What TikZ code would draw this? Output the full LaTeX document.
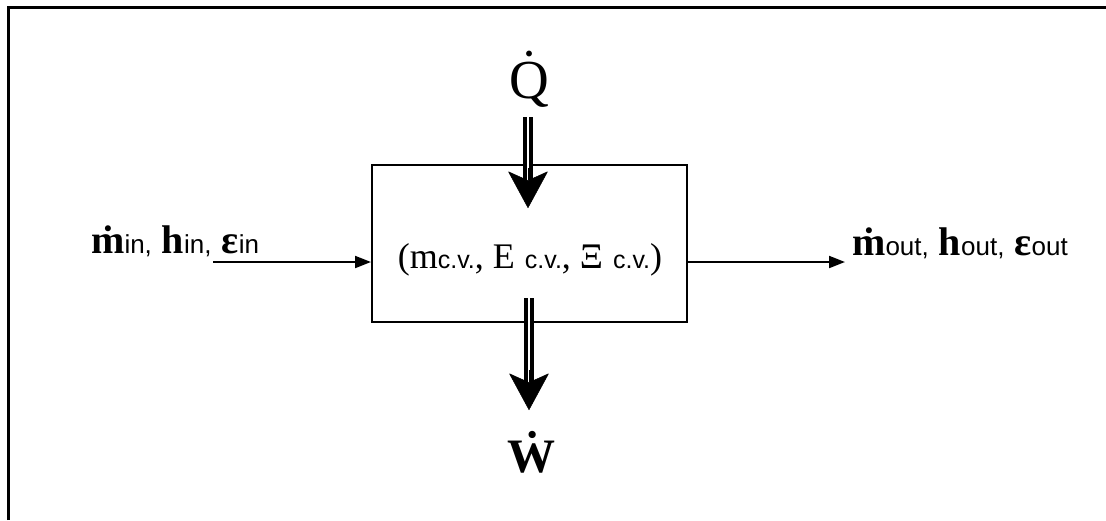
\documentclass[tikz,border=0pt]{standalone}
\usepackage{fontspec}
\setmainfont{Liberation Serif}
\newfontfamily\subfont{Liberation Sans}
\usetikzlibrary{arrows.meta}
\newcommand\sbs[1]{{\subfont\mdseries\fontsize{26}{26}\selectfont #1}}
\newcommand\cvs{{\subfont\fontsize{25}{25}\selectfont c.v.}}
\tikzset{
  frameline/.style={line width=3pt},
  cvbox/.style={draw, line width=1.8pt, minimum width=315pt, minimum height=157pt, inner sep=0pt},
  dshaft/.style={double, line width=3.5pt, double distance=2.5pt},
  bighead/.style={line width=0.5pt, -{Stealth[length=37pt,width=40pt,inset=9pt,round]}},
  flowarrow/.style={line width=2pt, -{Triangle[length=16pt,width=12pt]}},
  flowtext/.style={inner sep=0pt, anchor=base west, font=\fontsize{40}{40}\selectfont\bfseries},
}
\begin{document}
\begin{tikzpicture}[x=1pt,y=-1pt]
\useasboundingbox (0,0) rectangle (1106,520);
\draw[frameline] (8,520) -- (8,7) -- (1106,7);
% control volume
\node[cvbox, anchor=north west] (cv) at (371,164) {};
\node[inner sep=0pt, anchor=base, font=\fontsize{36}{36}\selectfont] (lbl) at (530,268)
  {(m\cvs, E\;\cvs, Ξ\;\cvs)};
% heat
\node[inner sep=0pt, anchor=base, font=\fontsize{55}{55}\selectfont] (Q) at (529,98) {\.{Q}};
\coordinate (qs) at (528,117);
\coordinate (qm) at (528,190);
\coordinate (qh) at (528,168);
\coordinate (qt) at (528,208);
\draw[dshaft] (qs) -- (qm);
\draw[bighead] (qh) -- (qt);
% work
\node[inner sep=0pt, anchor=base, font=\fontsize{48}{48}\selectfont\bfseries] (W) at (531,472) {\.{W}};
\coordinate (ws) at (529,298);
\coordinate (wm) at (529,392);
\coordinate (wh) at (529,370);
\coordinate (wt) at (529,410);
\draw[dshaft] (ws) -- (wm);
\draw[bighead] (wh) -- (wt);
% inlet
\node[flowtext] (in) at (91,253) {\.{m}\sbs{in,} h\sbs{in,} ε\sbs{in}};
\coordinate (ina) at (213,262);
\draw[flowarrow] (ina) -- (ina -| cv.west);
% outlet
\node[flowtext] (out) at (852,255) {\.{m}\sbs{out,} h\sbs{out,} ε\sbs{out}};
\coordinate (outa) at (845,262);
\draw[flowarrow] (outa -| cv.east) -- (outa);
\end{tikzpicture}
\end{document}
